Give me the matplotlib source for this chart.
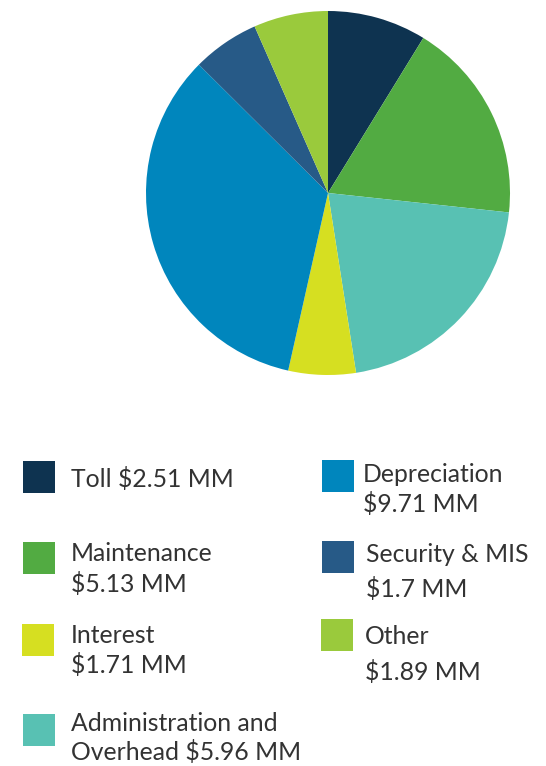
import matplotlib
matplotlib.use("Agg")
import matplotlib.pyplot as plt

categories = ["Toll", "Maintenance", "Administration and Overhead", "Interest",
              "Depreciation", "Security & MIS", "Other"]
values = [2.51, 5.13, 5.96, 1.71, 9.71, 1.7, 1.89]
colors = ["#0e3350", "#52ab42", "#58c1b3", "#d6df21", "#0086bd", "#275a87", "#9aca3c"]

# legend labels (lines as printed)
legend_lines = {
    "Toll": ["Toll $2.51 MM"],
    "Maintenance": ["Maintenance", "$5.13 MM"],
    "Interest": ["Interest", "$1.71 MM"],
    "Administration and Overhead": ["Administration and", "Overhead $5.96 MM"],
    "Depreciation": ["Depreciation", "$9.71 MM"],
    "Security & MIS": ["Security & MIS", "$1.7 MM"],
    "Other": ["Other", "$1.89 MM"],
}

W, H = 546, 766
fig = plt.figure(figsize=(W / 100, H / 100), dpi=100)
plt.rcParams['font.family'] = ['Lato', 'DejaVu Sans']

ax = fig.add_axes([146 / W, 1 - 375 / H, 364 / W, 364 / H])
ax.pie(values, colors=colors, startangle=90, counterclock=False,
       wedgeprops=dict(linewidth=0))
ax.set_xlim(-1, 1)
ax.set_ylim(-1, 1)
ax.set_aspect("equal")
ax.axis("off")

# legend layout: (category, square x, square top y, text x, [baselines])
layout = [
    ("Toll", 23, 461, 71, [487]),
    ("Maintenance", 23, 542, 71, [561, 592]),
    ("Interest", 22, 624, 71, [643, 673]),
    ("Administration and Overhead", 23, 714, 71, [731, 760]),
    ("Depreciation", 322, 460, 363, [482, 512]),
    ("Security & MIS", 322, 541, 366, [562, 597]),
    ("Other", 321, 619, 365, [644, 680]),
]
sq = 32
for cat, sx, sy, tx, bases in layout:
    c = colors[categories.index(cat)]
    fig.patches.append(plt.Rectangle((sx / W, 1 - (sy + sq) / H), sq / W, sq / H,
                                     transform=fig.transFigure, color=c, lw=0))
    for line, b in zip(legend_lines[cat], bases):
        fig.text(tx / W, 1 - b / H, line, fontsize=17.8, color="#333333",
                 va="baseline", ha="left")

fig.savefig("out.png", dpi=100)
